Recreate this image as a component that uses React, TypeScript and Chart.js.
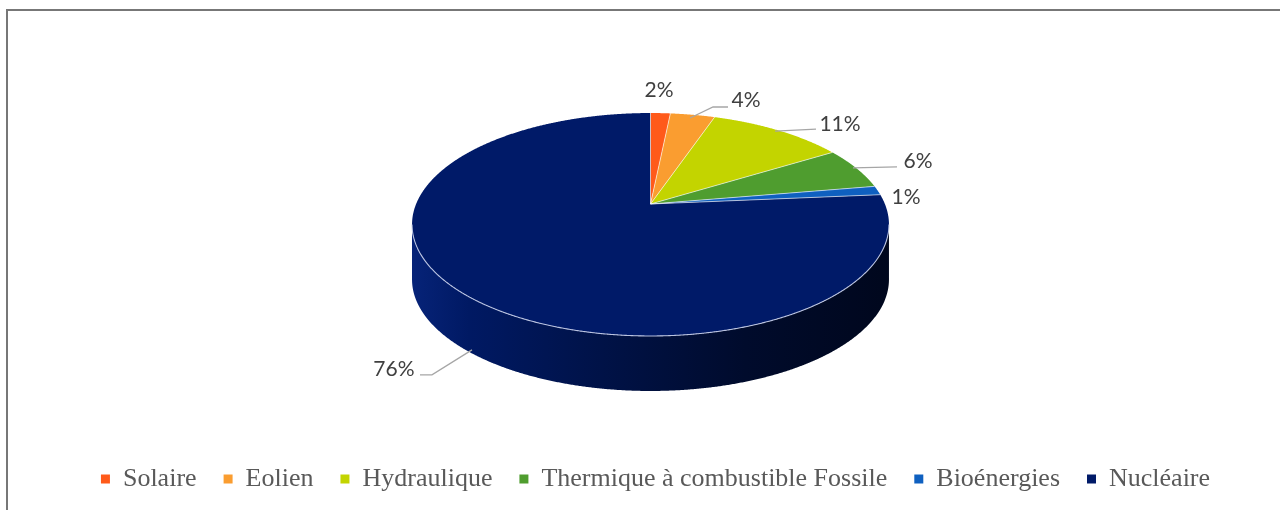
import React, { useEffect, useRef } from 'react';
import { Chart, registerables } from 'chart.js';

Chart.register(...registerables);

// ---- data ----
const categories = ['Solaire', 'Eolien', 'Hydraulique', 'Thermique à combustible Fossile', 'Bioénergies', 'Nucléaire'];
const shares = [1.6, 3.6, 11.0, 6.1, 1.3, 76.4];
const colors = ['#FF5A1A', '#FA9D30', '#C3D400', '#4F9D2F', '#0F60C0', '#001A68'];

// ---- 3D projection (layout constants) ----
const CX = 650.5;
const CY = 204;
const RX = 234.4;
const RY = 107.7;
const K = 0.1839;
const DEPTH = 55;

// label layout: offsets relative to the projected rim point at slice mid-angle
const labelLayout: any[] = [
  { text: [-1.4, -23], from: null, via: [] },
  { text: [53.4, -14.8], from: [-2.6, 3.2], via: [[-33, 7], [-18, 7]] },
  { text: [61.9, -6.3], from: [-3, 0.7], via: [[-24, 5]] },
  { text: [61.6, -7.3], from: [-3.4, -0.3], via: [[-21, 6]] },
  { text: [28.4, 6.5], from: null, via: [] },
  { text: [-73.4, 73], from: [4.6, 54], via: [[38, 6], [26, 6]] },
];

function proj(t: number): [number, number] {
  const s = Math.sin(t);
  const c = Math.cos(t);
  const w = 1 - K * s;
  return [CX + (RX * c) / w, CY + (RY * s) / w];
}

function hexToRgb(h: string) {
  const n = parseInt(h.slice(1), 16);
  return [(n >> 16) & 255, (n >> 8) & 255, n & 255];
}
function shade(h: string, f: number) {
  const [r, g, b] = hexToRgb(h);
  const c = (v: number) => Math.max(0, Math.min(255, Math.round(v * f + (f > 1 ? 6 : 0))));
  return `rgb(${c(r)},${c(g)},${c(b)})`;
}

const pie3d = {
  id: 'pie3d',
  beforeDatasetsDraw(chart: any) {
    const ctx: CanvasRenderingContext2D = chart.ctx;
    const meta = chart.getDatasetMeta(0);
    const arcs = meta.data;
    const tMin = Math.asin(K);
    const tMax = Math.PI - Math.asin(K);
    const step = Math.PI / 720;
    const [lx] = proj(Math.PI - Math.asin(K));
    const [rx] = proj(Math.asin(K));

    // sides
    arcs.forEach((arc: any, i: number) => {
      const sa = arc.startAngle;
      const ea = arc.endAngle;
      for (const shift of [0, 2 * Math.PI, -2 * Math.PI]) {
        const a0 = Math.max(sa + shift, tMin);
        const a1 = Math.min(ea + shift, tMax);
        if (a1 <= a0) continue;
        ctx.save();
        ctx.beginPath();
        let p = proj(a0);
        ctx.moveTo(p[0], p[1]);
        for (let a = a0; a <= a1; a += step) {
          p = proj(a);
          ctx.lineTo(p[0], p[1]);
        }
        p = proj(a1);
        ctx.lineTo(p[0], p[1]);
        ctx.lineTo(p[0], p[1] + DEPTH);
        for (let a = a1; a >= a0; a -= step) {
          p = proj(a);
          ctx.lineTo(p[0], p[1] + DEPTH);
        }
        p = proj(a0);
        ctx.lineTo(p[0], p[1] + DEPTH);
        ctx.closePath();
        const col = colors[i % colors.length];
        const g = ctx.createLinearGradient(rx, 0, lx, 0);
        g.addColorStop(0, shade(col, 0.28));
        g.addColorStop(0.3, shade(col, 0.42));
        g.addColorStop(0.6, shade(col, 0.68));
        g.addColorStop(0.88, shade(col, 0.95));
        g.addColorStop(1, shade(col, 1.1));
        ctx.fillStyle = g;
        ctx.fill();
        ctx.restore();
      }
    });

    // top faces
    arcs.forEach((arc: any, i: number) => {
      const sa = arc.startAngle;
      const ea = arc.endAngle;
      ctx.save();
      ctx.beginPath();
      ctx.moveTo(CX, CY);
      for (let a = sa; a <= ea; a += step) {
        const p = proj(a);
        ctx.lineTo(p[0], p[1]);
      }
      const pe = proj(ea);
      ctx.lineTo(pe[0], pe[1]);
      ctx.closePath();
      ctx.fillStyle = arc.options.backgroundColor;
      ctx.fill();
      ctx.restore();
    });
    // separators
    arcs.forEach((arc: any) => {
      ctx.save();
      ctx.strokeStyle = 'rgba(255,255,255,0.75)';
      ctx.lineWidth = 0.8;
      ctx.beginPath();
      ctx.moveTo(CX, CY);
      const p = proj(arc.startAngle);
      ctx.lineTo(p[0], p[1]);
      ctx.stroke();
      ctx.restore();
    });

    // front rim highlight
    ctx.save();
    ctx.strokeStyle = 'rgba(200,208,235,0.9)';
    ctx.lineWidth = 1.1;
    ctx.beginPath();
    for (let a = tMin; a <= tMax; a += step) {
      const p = proj(a);
      if (a === tMin) ctx.moveTo(p[0], p[1]);
      else ctx.lineTo(p[0], p[1]);
    }
    ctx.stroke();
    ctx.restore();
    return false;
  },
  afterDraw(chart: any) {
    const ctx: CanvasRenderingContext2D = chart.ctx;
    const meta = chart.getDatasetMeta(0);
    const total = shares.reduce((s, v) => s + v, 0);
    meta.data.forEach((arc: any, i: number) => {
      const mid = (arc.startAngle + arc.endAngle) / 2;
      const anchor = proj(mid);
      const lay = labelLayout[i];
      const tx = anchor[0] + lay.text[0];
      const ty = anchor[1] + lay.text[1];
      if (lay.from) {
        ctx.save();
        ctx.strokeStyle = '#A6A6A6';
        ctx.lineWidth = 1.3;
        ctx.beginPath();
        ctx.moveTo(anchor[0] + lay.from[0], anchor[1] + lay.from[1]);
        lay.via.forEach((v: number[]) => ctx.lineTo(tx + v[0], ty + v[1]));
        ctx.stroke();
        ctx.restore();
      }
      ctx.save();
      ctx.font = '21px Lato, "Open Sans", sans-serif';
      ctx.fillStyle = '#404040';
      ctx.textAlign = 'center';
      ctx.textBaseline = 'middle';
      ctx.fillText(Math.round((shares[i] / total) * 100) + '%', tx, ty);
      ctx.restore();
    });
  },
};

export default function App() {
  const ref = useRef<HTMLCanvasElement | null>(null);
  useEffect(() => {
    if (!ref.current) return;
    const chart = new Chart(ref.current, {
      type: 'pie',
      data: {
        labels: categories,
        datasets: [{ data: shares, backgroundColor: colors, borderWidth: 0 }],
      },
      options: {
        responsive: false,
        animation: false,
        layout: { padding: { left: 31 } },
        plugins: {
          legend: {
            position: 'bottom',
            labels: {
              boxWidth: 9,
              boxHeight: 9,
              padding: 27,
              color: '#595959',
              font: { family: '"Liberation Serif", "Times New Roman", serif', size: 26 },
            },
          },
          tooltip: { enabled: false },
        },
      },
      plugins: [pie3d],
    } as any);
    return () => chart.destroy();
  }, []);
  return (
    <div style={{ position: 'fixed', left: 0, top: 0, width: 1280, height: 510, overflow: 'hidden', background: '#fff' }}>
      <div style={{ position: 'absolute', left: 6, top: 9, width: 1400, height: 700, border: '2px solid #777', boxSizing: 'border-box' }} />
      <canvas ref={ref} width={1280} height={502} style={{ position: 'absolute', left: 0, top: 0, width: 1280, height: 502 }} />
    </div>
  );
}
